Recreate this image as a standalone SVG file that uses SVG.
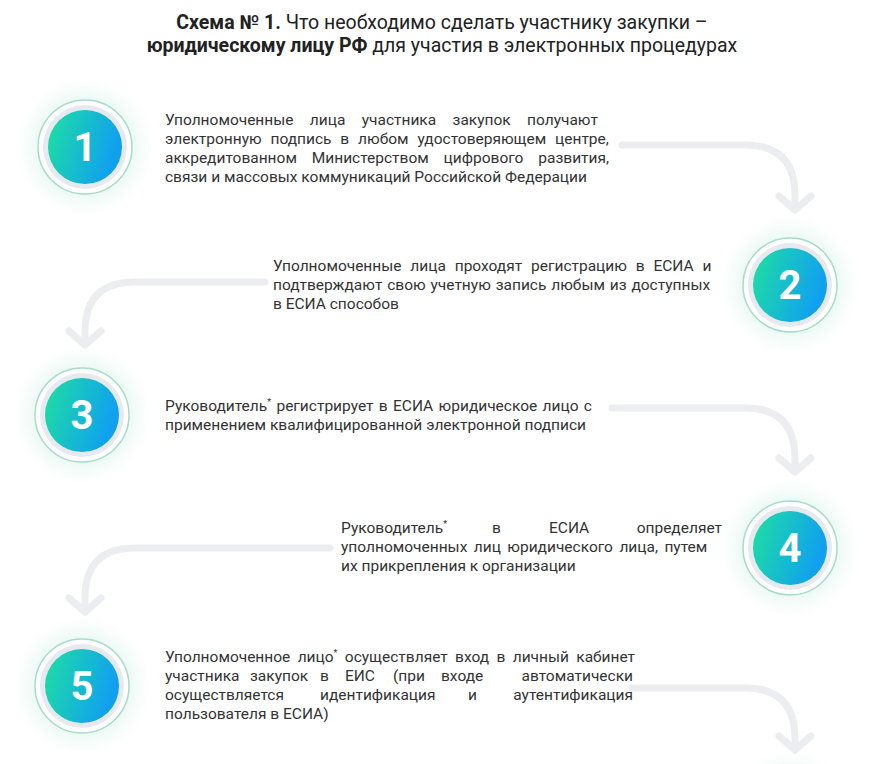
<svg xmlns="http://www.w3.org/2000/svg" width="884" height="764" viewBox="0 0 884 764">
<style>
.t{font-family:Roboto,"Liberation Sans",sans-serif;font-size:15.5px;fill:#333}
.e{text-anchor:end}
.h{font-family:Roboto,"Liberation Sans",sans-serif;font-size:19.5px;fill:#222;text-anchor:middle}
.n{font-family:Roboto,"Liberation Sans",sans-serif;font-size:40px;font-weight:bold;fill:#fff;text-anchor:middle}
.c{fill:none;stroke:#ebedf0;stroke-width:7;stroke-linecap:round}
.ah{fill:none;stroke:#ebedf0;stroke-width:7;stroke-linecap:round;stroke-linejoin:round}
</style>
<defs>
<radialGradient id="glow"><stop offset="0.6" stop-color="#e3f7f0"/><stop offset="1" stop-color="#f3fbf8" stop-opacity="0"/></radialGradient>
<linearGradient id="g" x1="0" y1="0" x2="1" y2="0.3"><stop offset="0" stop-color="#1fe0a0"/><stop offset="1" stop-color="#10a0f0"/></linearGradient>
<g id="ring">
<circle r="70" fill="url(#glow)"/>
<circle r="47" fill="#fff" stroke="#a8dcc8" stroke-width="1.5"/>
<circle r="42" fill="#e6eaee"/>
<circle r="37" fill="url(#g)"/>
</g>
</defs>
<rect width="884" height="764" fill="#fff"/>
<text class="h" x="442" y="29"><tspan font-weight="bold">Схема № 1.</tspan> Что необходимо сделать участнику закупки –</text>
<text class="h" x="442" y="52"><tspan font-weight="bold">юридическому лицу РФ</tspan> для участия в электронных процедурах</text>
<g id="connectors">
<path class="c" d="M622 145 H745 Q795 145 795 195 V208"/>
<path class="ah" d="M779 196 L795 210 L811 196"/>
<path class="c" d="M265 282 H135 Q85 282 85 332 V343"/>
<path class="ah" d="M69 331 L85 345 L101 331"/>
<path class="c" d="M612 408 H745 Q795 408 795 458 V470"/>
<path class="ah" d="M779 458 L795 472 L811 458"/>
<path class="c" d="M330 548 H135 Q85 548 85 598 V610"/>
<path class="ah" d="M69 598 L85 612 L101 598"/>
<path class="c" d="M632 688 H745 Q795 688 795 738 V745"/>
<path class="ah" d="M779 736 L795 750 L811 736"/>
</g>
<g id="n1"><use href="#ring" x="85" y="147"/><text class="n" x="85" y="161">1</text>
<text class="t" x="165" y="125" word-spacing="12.5">Уполномоченные лица участника закупок получают</text>
<text class="t" x="165" y="144" word-spacing="5">электронную подпись в любом удостоверяющем центре,</text>
<text class="t" x="165" y="163" word-spacing="11">аккредитованном Министерством цифрового развития,</text>
<text class="t" x="165" y="182">связи и массовых коммуникаций Российской Федерации</text></g>
<g id="n2"><use href="#ring" x="790" y="285"/><text class="n" x="790" y="299">2</text>
<text class="t" x="273" y="271" word-spacing="5">Уполномоченные лица проходят регистрацию в ЕСИА и</text>
<text class="t" x="273" y="290" word-spacing="1">подтверждают свою учетную запись любым из доступных</text>
<text class="t" x="273" y="309">в ЕСИА способов</text></g>
<g id="n3"><use href="#ring" x="82" y="415"/><text class="n" x="82" y="429">3</text>
<text class="t" x="165" y="411" word-spacing="1.5">Руководитель<tspan font-size="9" dy="-6">*</tspan><tspan dy="6"> регистрирует в ЕСИА юридическое лицо с</tspan></text>
<text class="t" x="165" y="430">применением квалифицированной электронной подписи</text></g>
<g id="n4"><use href="#ring" x="790" y="548"/><text class="n" x="790" y="562">4</text>
<text class="t" x="341" y="533">Руководитель<tspan font-size="9" dy="-6">*</tspan></text>
<text class="t" x="492" y="533">в</text><text class="t" x="549" y="533">ЕСИА</text>
<text class="t e" x="722" y="533">определяет</text>
<text class="t" x="341" y="552" word-spacing="2.6">уполномоченных лиц юридического лица, путем</text>
<text class="t" x="341" y="571">их прикрепления к организации</text></g>
<g id="n5"><use href="#ring" x="82" y="686"/><text class="n" x="82" y="700">5</text>
<text class="t" x="165" y="662" word-spacing="3.5">Уполномоченное лицо<tspan font-size="9" dy="-6">*</tspan><tspan dy="6"> осуществляет вход в личный кабинет</tspan></text>
<text class="t" y="681"><tspan x="165">участника</tspan><tspan x="250">закупок</tspan><tspan x="320">в</tspan><tspan x="345">ЕИС</tspan><tspan x="393">(при</tspan><tspan x="441">входе</tspan></text>
<text class="t e" x="633" y="681">автоматически</text>
<text class="t" y="700"><tspan x="165">осуществляется</tspan><tspan x="320">идентификация</tspan><tspan x="468">и</tspan></text>
<text class="t e" x="633" y="700">аутентификация</text>
<text class="t" x="165" y="719">пользователя в ЕСИА)</text></g>
<circle cx="790" cy="820" r="70" fill="url(#glow)"/>
</svg>
